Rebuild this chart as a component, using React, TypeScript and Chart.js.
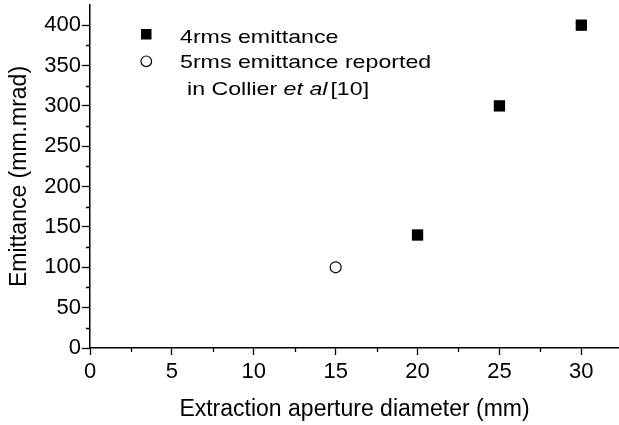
import React, { useEffect, useRef } from 'react';
import { Chart, registerables } from 'chart.js';

Chart.register(...registerables);

// ---- data ----
const apertureMeasured = [20, 25, 30];
const emittance4rms = [140, 300, 400];
const apertureCollier = [15];
const emittance5rms = [100];

// ---- ticks ----
const xMajorTicks = [0, 5, 10, 15, 20, 25, 30];
const xMinorTicks = [2.5, 7.5, 12.5, 17.5, 22.5, 27.5];
const yMajorTicks = [0, 50, 100, 150, 200, 250, 300, 350, 400];
const yMinorTicks = [25, 75, 125, 175, 225, 275, 325, 375];

// ---- texts ----
const legendLine1 = '4rms emittance';
const legendLine2 = '5rms emittance reported';
const legendLine3a = 'in Collier ';
const legendLine3b = 'et al';
const legendLine3c = '[10]';
const xTitle = 'Extraction aperture diameter (mm)';
const yTitle = 'Emittance (mm.mrad)';

const FAMILY = "'Liberation Sans', Arial, Helvetica, sans-serif";

const minorTicksPlugin = {
  id: 'minorTicks',
  afterDraw(chart: any) {
    const { ctx } = chart;
    const x = chart.scales.x;
    const y = chart.scales.y;
    ctx.save();
    ctx.strokeStyle = '#000';
    ctx.lineWidth = 1.3;
    ctx.beginPath();
    for (const v of xMinorTicks) {
      const px = Math.round(x.getPixelForValue(v)) + 0.5;
      ctx.moveTo(px, y.bottom);
      ctx.lineTo(px, y.bottom + 4);
    }
    for (const v of yMinorTicks) {
      const py = Math.round(y.getPixelForValue(v)) + 0.5;
      ctx.moveTo(x.left - 4, py);
      ctx.lineTo(x.left, py);
    }
    ctx.stroke();
    ctx.restore();
  },
};

function drawStretched(ctx: CanvasRenderingContext2D, text: string, x: number, y: number, italic: boolean): number {
  const sx = 1.22;
  ctx.save();
  ctx.translate(x, y);
  ctx.scale(sx, 1);
  ctx.font = `${italic ? 'italic ' : ''}19px ${FAMILY}`;
  ctx.fillStyle = '#000';
  ctx.textBaseline = 'alphabetic';
  ctx.textAlign = 'left';
  ctx.fillText(text, 0, 0);
  const w = ctx.measureText(text).width * sx;
  ctx.restore();
  return w;
}

const legendPlugin = {
  id: 'customLegend',
  afterDraw(chart: any) {
    const ctx: CanvasRenderingContext2D = chart.ctx;
    ctx.save();
    // filled square marker
    ctx.fillStyle = '#000';
    ctx.fillRect(141, 29, 10.5, 10.5);
    // open circle marker
    ctx.beginPath();
    ctx.arc(146.3, 61.3, 5.3, 0, Math.PI * 2);
    ctx.fillStyle = '#fff';
    ctx.fill();
    ctx.lineWidth = 1.2;
    ctx.strokeStyle = '#000';
    ctx.stroke();
    ctx.restore();

    drawStretched(ctx, legendLine1, 180, 43, false);
    drawStretched(ctx, legendLine2, 180, 68, false);
    let cx = 187;
    cx += drawStretched(ctx, legendLine3a, cx, 95, false);
    cx += drawStretched(ctx, legendLine3b, cx, 95, true);
    cx += 3;
    drawStretched(ctx, legendLine3c, cx, 95, false);
  },
};

function zeroPadding(scale: any) {
  scale.paddingLeft = 0;
  scale.paddingRight = 0;
  scale.paddingTop = 0;
  scale.paddingBottom = 0;
}

export default function App() {
  const canvasRef = useRef<HTMLCanvasElement | null>(null);

  useEffect(() => {
    const canvas = canvasRef.current;
    if (!canvas) return;
    const chart = new Chart(canvas, {
      type: 'scatter',
      data: {
        datasets: [
          {
            label: legendLine1,
            data: apertureMeasured.map((x, i) => ({ x, y: emittance4rms[i] })),
            pointStyle: 'rect',
            pointRadius: 8,
            pointHoverRadius: 8,
            backgroundColor: '#000',
            borderColor: '#000',
            borderWidth: 0,
          },
          {
            label: legendLine2,
            data: apertureCollier.map((x, i) => ({ x, y: emittance5rms[i] })),
            pointStyle: 'circle',
            pointRadius: 5.5,
            pointHoverRadius: 5.5,
            backgroundColor: '#fff',
            borderColor: '#000',
            borderWidth: 1.2,
          },
        ],
      },
      options: {
        animation: false,
        responsive: false,
        maintainAspectRatio: false,
        devicePixelRatio: 1,
        layout: { autoPadding: false, padding: { top: 5, right: 0, left: 0, bottom: 0 } },
        plugins: {
          legend: { display: false },
          tooltip: { enabled: false },
        },
        scales: {
          x: {
            type: 'linear',
            min: 0,
            max: 32.3,
            afterBuildTicks: (scale: any) => {
              scale.ticks = xMajorTicks.map((v) => ({ value: v }));
            },
            afterFit: (scale: any) => {
              scale.height = 77;
              zeroPadding(scale);
            },
            grid: {
              drawOnChartArea: false,
              color: '#000',
              tickColor: '#000',
              tickLength: 7,
              tickWidth: 1.3,
            },
            border: { color: '#000', width: 1.5 },
            ticks: {
              color: '#000',
              font: { family: FAMILY, size: 22 },
              padding: 4,
              maxRotation: 0,
              autoSkip: false,
            },
            title: {
              display: true,
              text: xTitle,
              color: '#000',
              font: { family: FAMILY, size: 23 },
              padding: { top: 0, bottom: 2 },
            },
          },
          y: {
            type: 'linear',
            min: 0,
            max: 425,
            afterBuildTicks: (scale: any) => {
              scale.ticks = yMajorTicks.map((v) => ({ value: v }));
            },
            afterFit: (scale: any) => {
              scale.width = 90;
              zeroPadding(scale);
            },
            grid: {
              drawOnChartArea: false,
              color: '#000',
              tickColor: '#000',
              tickLength: 8,
              tickWidth: 1.3,
            },
            border: { color: '#000', width: 1.5 },
            ticks: {
              color: '#000',
              font: { family: FAMILY, size: 22 },
              padding: 1,
              autoSkip: false,
            },
            title: {
              display: true,
              text: yTitle,
              color: '#000',
              font: { family: FAMILY, size: 23 },
              padding: { top: 6, bottom: 0 },
            },
          },
        },
      },
      plugins: [minorTicksPlugin, legendPlugin],
    } as any);
    return () => {
      chart.destroy();
    };
  }, []);

  return (
    <div style={{ position: 'fixed', left: 0, top: 0, width: 619, height: 425, background: '#fff' }}>
      <canvas ref={canvasRef} width={619} height={425} style={{ width: 619, height: 425, display: 'block' }} />
    </div>
  );
}
